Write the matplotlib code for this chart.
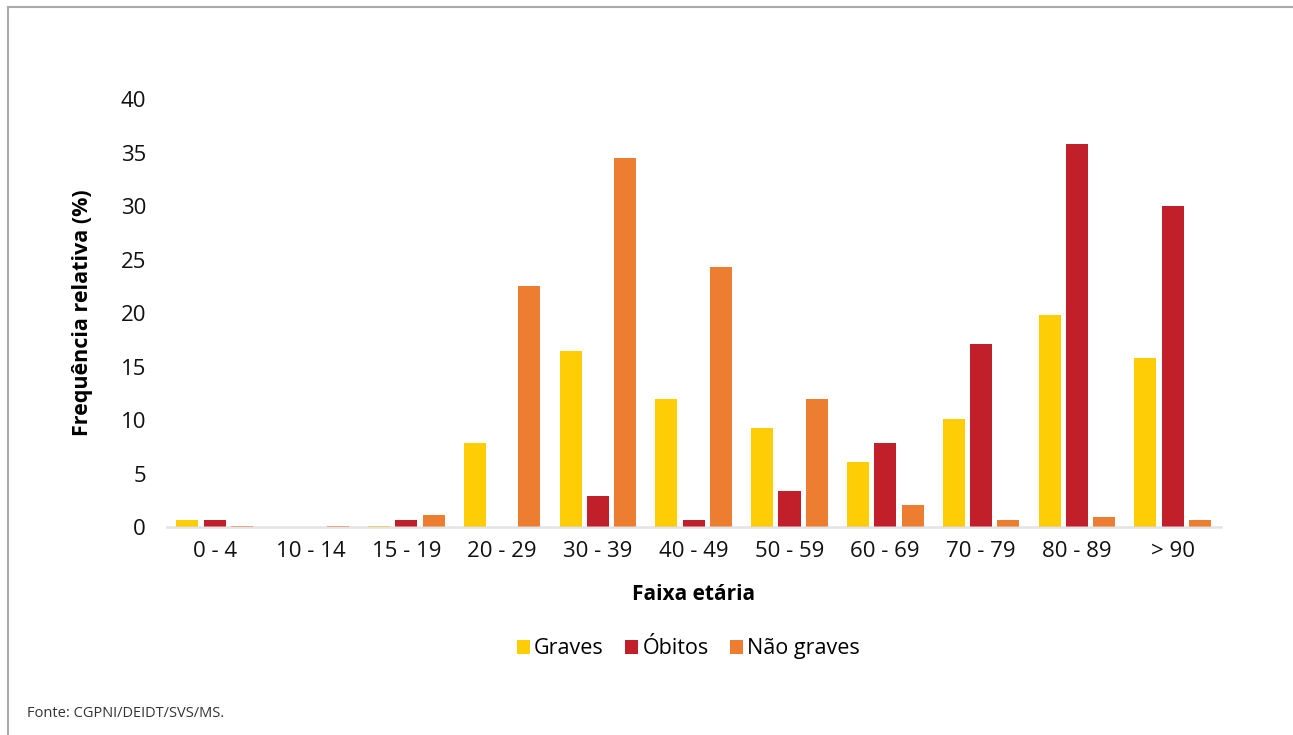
import numpy as np
from matplotlib import pyplot as plt
from matplotlib.lines import Line2D

plt.rcParams['font.family'] = ['Open Sans', 'DejaVu Sans']

faixas = ['0 - 4', '10 - 14', '15 - 19', '20 - 29', '30 - 39', '40 - 49',
          '50 - 59', '60 - 69', '70 - 79', '80 - 89', '> 90']
graves = [0.7, 0.0, 0.1, 7.9, 16.5, 12.0, 9.3, 6.1, 10.1, 19.8, 15.8]
obitos = [0.7, 0.0, 0.7, 0.0, 2.9, 0.7, 3.4, 7.9, 17.1, 35.8, 30.0]
nao_graves = [0.1, 0.1, 1.1, 22.5, 34.5, 24.3, 12.0, 2.1, 0.7, 0.9, 0.7]

c_graves = '#FFCD05'
c_obitos = '#C1202A'
c_nao = '#ED7D31'

fig = plt.figure(figsize=(12.93, 7.35), dpi=100)
ax = fig.add_axes([0.129, 0.283, 0.815, 0.582])

x = np.arange(len(faixas))
w = 0.23
d = 0.285
ax.bar(x - d, graves, w, color=c_graves, label='Graves', zorder=2)
ax.bar(x, obitos, w, color=c_obitos, label='Óbitos', zorder=2)
ax.bar(x + d, nao_graves, w, color=c_nao, label='Não graves', zorder=2)

ax.set_xlim(-0.5, len(faixas) - 0.5)
ax.set_ylim(0, 40)
ax.set_yticks(range(0, 41, 5))
ax.set_xticks(x)
ax.set_xticklabels(faixas)
ax.tick_params(axis='both', length=0, labelsize=16, colors='#111111')
ax.tick_params(axis='y', pad=15)
ax.tick_params(axis='x', pad=10)

for s in ['top', 'right', 'left']:
    ax.spines[s].set_visible(False)
ax.spines['bottom'].set_color('#D9D9D9')
ax.spines['bottom'].set_linewidth(1.8)
ax.spines['bottom'].set_alpha(0.7)
ax.spines['bottom'].set_zorder(3)

ax.set_xlabel('Faixa etária', fontsize=15, fontweight='bold', labelpad=16)
ax.set_ylabel('Frequência relativa (%)', fontsize=15.5, fontweight='bold', labelpad=20)

ax.legend(loc='upper center', bbox_to_anchor=(0.495, -0.215), ncol=3, frameon=False,
          fontsize=15.5, handlelength=0.6, handleheight=0.6, handletextpad=0.2,
          columnspacing=1.0)

fig.text(0.021, 0.025, 'Fonte: CGPNI/DEIDT/SVS/MS.', fontsize=10.5, color='#333333')

# moldura cinza
fig.add_artist(Line2D([0.0065, 0.0065], [0.0, 0.99], color='#AAAAAA', lw=1.5))
fig.add_artist(Line2D([0.0065, 1.0], [0.99, 0.99], color='#AAAAAA', lw=1.5))

fig.savefig('out.png', dpi=100)
